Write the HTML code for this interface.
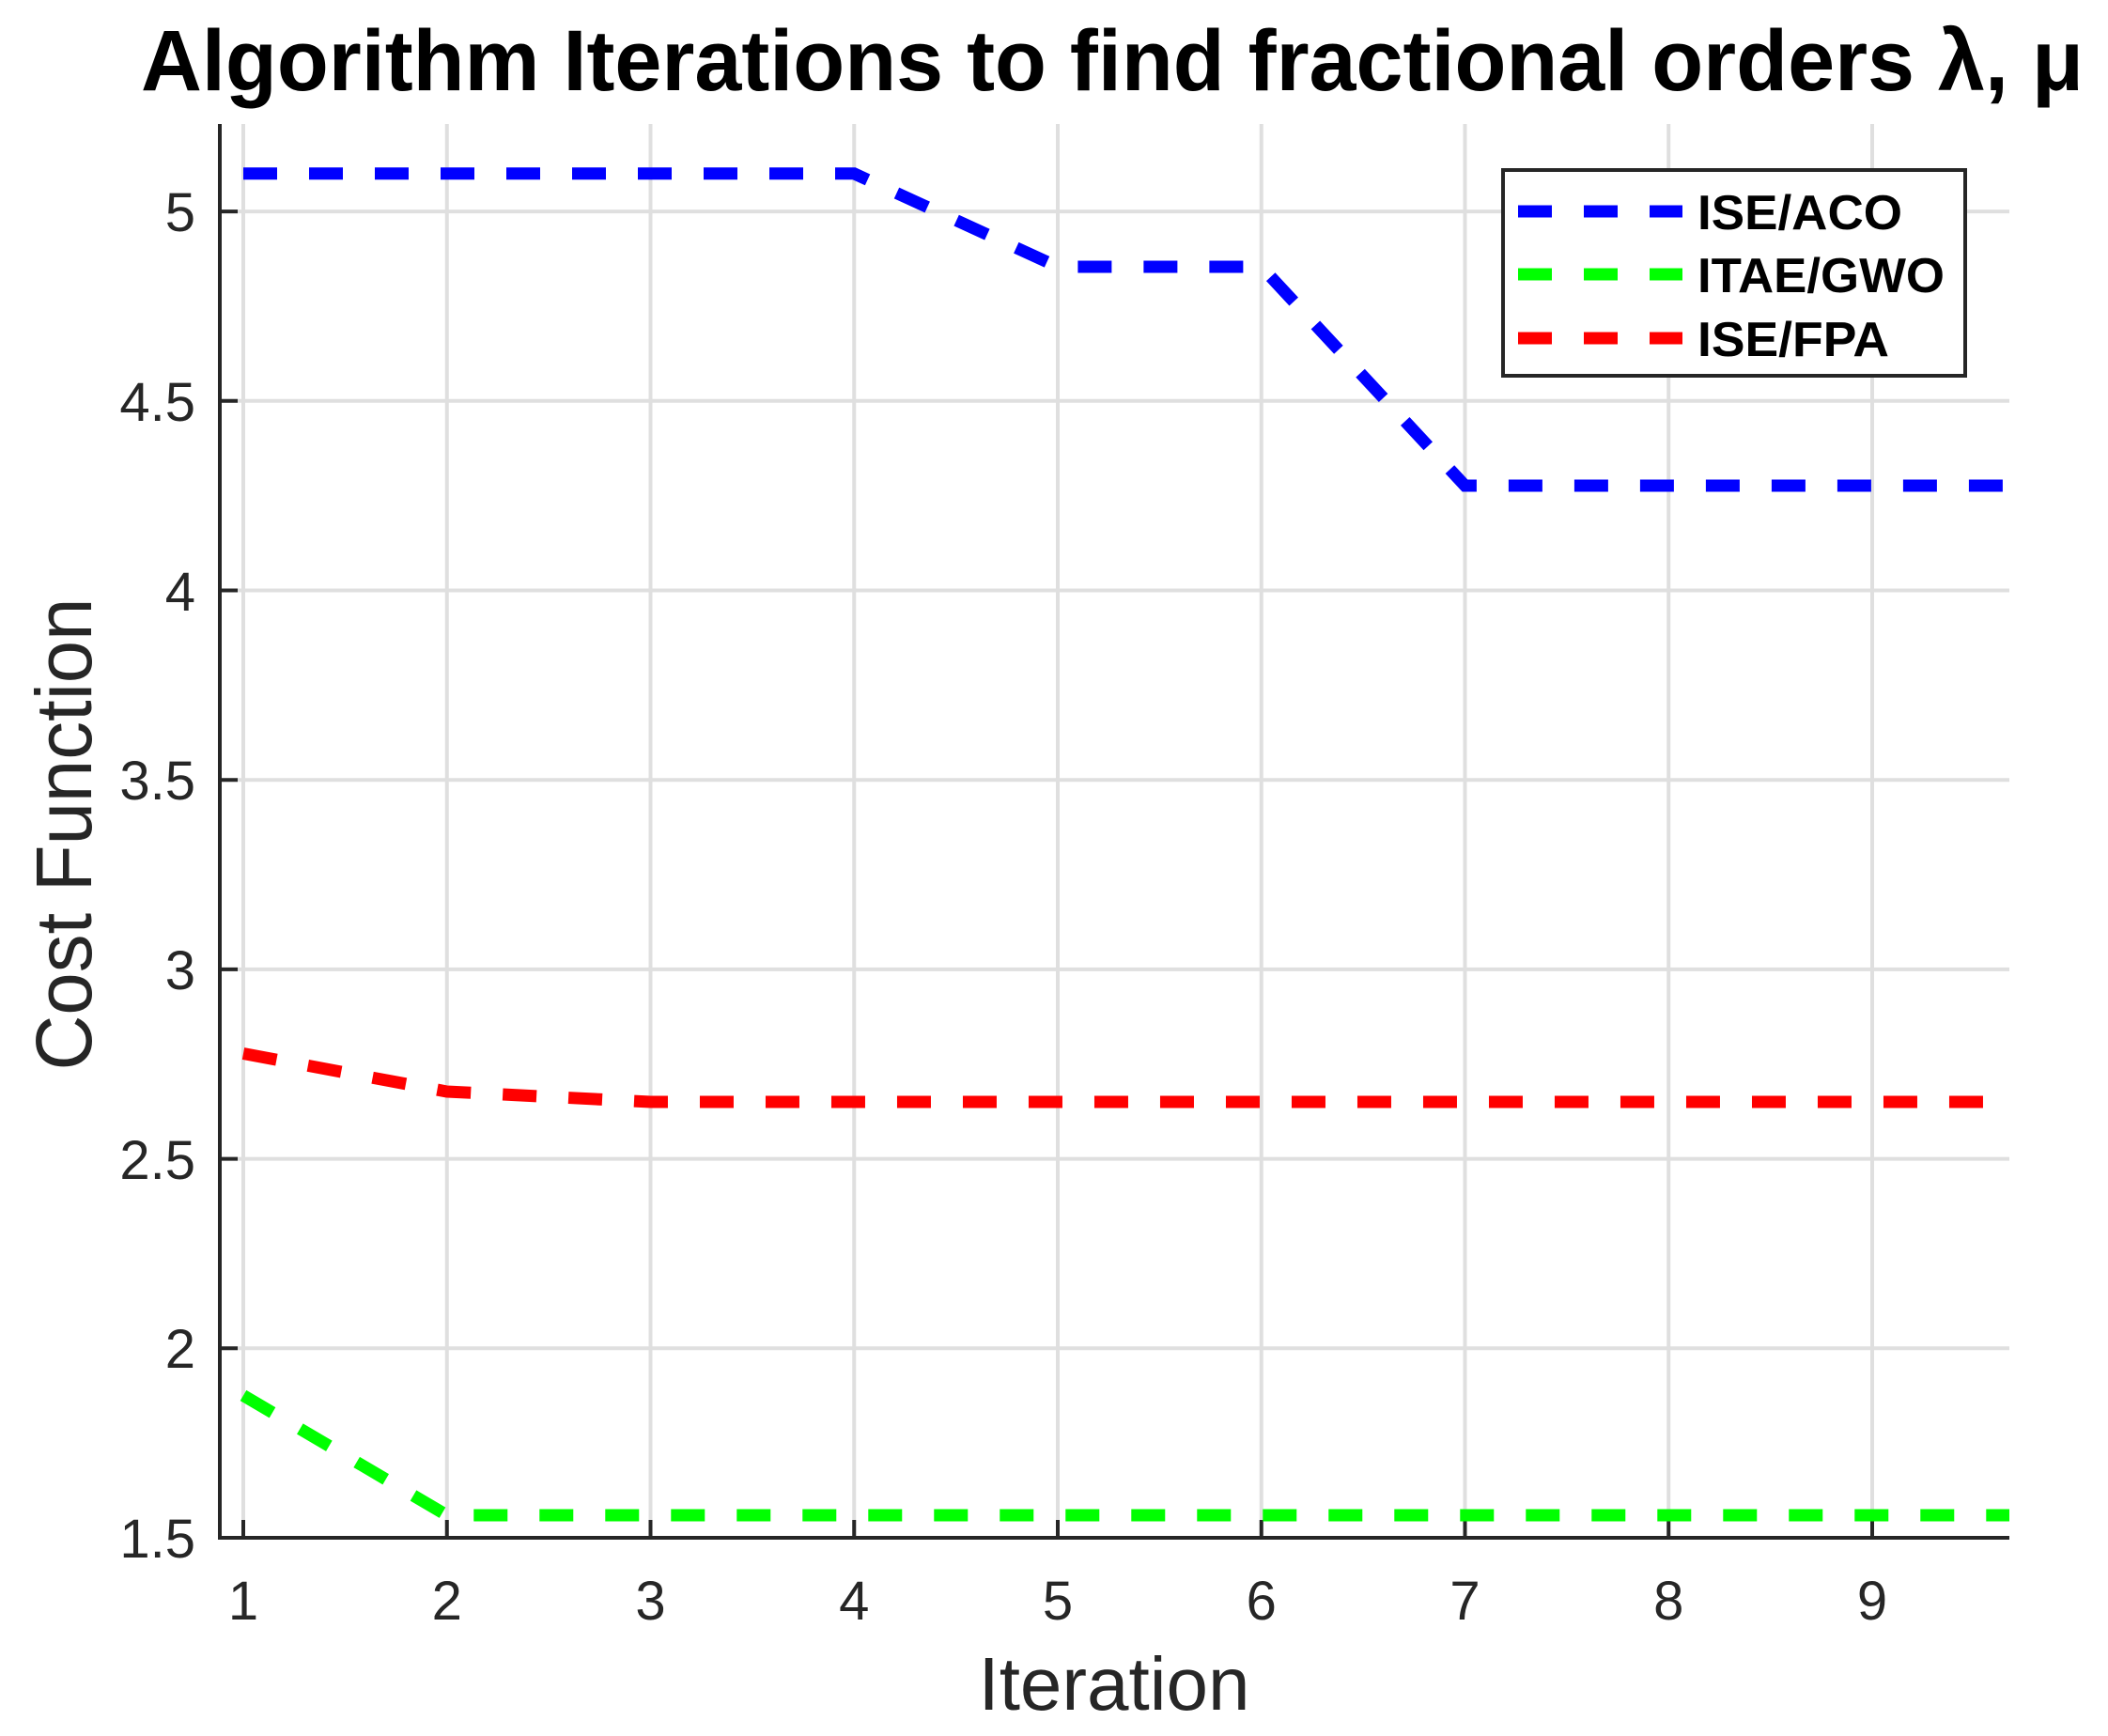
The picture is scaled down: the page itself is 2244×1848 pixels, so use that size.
<!DOCTYPE html>
<html><head><meta charset="utf-8"><style>
html,body{margin:0;padding:0;background:#fff;}
svg{display:block;}
</style></head><body>
<svg width="2244" height="1848" viewBox="0 0 2244 1848" xmlns="http://www.w3.org/2000/svg" font-family="Liberation Sans, Arial, sans-serif">
<rect width="2244" height="1848" fill="#fff"/>
<defs><clipPath id="c"><rect x="234" y="132" width="1905" height="1505"/></clipPath></defs>
<g stroke="#dfdfdf" stroke-width="4">
<line x1="259" y1="132" x2="259" y2="1637"/>
<line x1="475.75" y1="132" x2="475.75" y2="1637"/>
<line x1="692.5" y1="132" x2="692.5" y2="1637"/>
<line x1="909.25" y1="132" x2="909.25" y2="1637"/>
<line x1="1126" y1="132" x2="1126" y2="1637"/>
<line x1="1342.75" y1="132" x2="1342.75" y2="1637"/>
<line x1="1559.5" y1="132" x2="1559.5" y2="1637"/>
<line x1="1776.25" y1="132" x2="1776.25" y2="1637"/>
<line x1="1993" y1="132" x2="1993" y2="1637"/>
<line x1="234" y1="1435.3" x2="2139" y2="1435.3"/>
<line x1="234" y1="1233.6" x2="2139" y2="1233.6"/>
<line x1="234" y1="1031.9" x2="2139" y2="1031.9"/>
<line x1="234" y1="830.2" x2="2139" y2="830.2"/>
<line x1="234" y1="628.5" x2="2139" y2="628.5"/>
<line x1="234" y1="426.8" x2="2139" y2="426.8"/>
<line x1="234" y1="225.1" x2="2139" y2="225.1"/>
</g>
<g stroke="#262626" stroke-width="4" fill="none">
<line x1="234" y1="132" x2="234" y2="1639"/>
<line x1="232" y1="1637" x2="2139" y2="1637"/>
<line x1="259" y1="1637" x2="259" y2="1618"/>
<line x1="475.75" y1="1637" x2="475.75" y2="1618"/>
<line x1="692.5" y1="1637" x2="692.5" y2="1618"/>
<line x1="909.25" y1="1637" x2="909.25" y2="1618"/>
<line x1="1126" y1="1637" x2="1126" y2="1618"/>
<line x1="1342.75" y1="1637" x2="1342.75" y2="1618"/>
<line x1="1559.5" y1="1637" x2="1559.5" y2="1618"/>
<line x1="1776.25" y1="1637" x2="1776.25" y2="1618"/>
<line x1="1993" y1="1637" x2="1993" y2="1618"/>
<line x1="234" y1="1435.3" x2="253" y2="1435.3"/>
<line x1="234" y1="1233.6" x2="253" y2="1233.6"/>
<line x1="234" y1="1031.9" x2="253" y2="1031.9"/>
<line x1="234" y1="830.2" x2="253" y2="830.2"/>
<line x1="234" y1="628.5" x2="253" y2="628.5"/>
<line x1="234" y1="426.8" x2="253" y2="426.8"/>
<line x1="234" y1="225.1" x2="253" y2="225.1"/>
</g>
<g clip-path="url(#c)" fill="none" stroke-width="13" stroke-dasharray="36 34">
<polyline stroke="#0000ff" points="259,184.8 475.75,184.8 692.5,184.8 909.25,184.8 1126,284 1342.75,284 1559.5,517 1776.25,517 1993,517 2139,517"/>
<polyline stroke="#00ff00" points="259,1485.5 475.75,1613 692.5,1613 909.25,1613 1126,1613 1342.75,1613 1559.5,1613 1776.25,1613 1993,1613 2139,1613"/>
<polyline stroke="#ff0000" points="259,1121.5 475.75,1162 692.5,1173 909.25,1173 1126,1173 1342.75,1173 1559.5,1173 1776.25,1173 1993,1173 2139,1173"/>
</g>
<g fill="#262626" font-size="58">
<g text-anchor="end">
<text x="208" y="1658">1.5</text>
<text x="208" y="1456">2</text>
<text x="208" y="1255">2.5</text>
<text x="208" y="1053">3</text>
<text x="208" y="851">3.5</text>
<text x="208" y="650">4</text>
<text x="208" y="448">4.5</text>
<text x="208" y="246">5</text>
</g>
<g text-anchor="middle">
<text x="259" y="1724">1</text>
<text x="475.75" y="1724">2</text>
<text x="692.5" y="1724">3</text>
<text x="909.25" y="1724">4</text>
<text x="1126" y="1724">5</text>
<text x="1342.75" y="1724">6</text>
<text x="1559.5" y="1724">7</text>
<text x="1776.25" y="1724">8</text>
<text x="1993" y="1724">9</text>
</g>
<text x="1186" y="1820" font-size="80" text-anchor="middle">Iteration</text>
<text transform="translate(97,888) rotate(-90)" font-size="84" text-anchor="middle" textLength="503" lengthAdjust="spacingAndGlyphs">Cost Function</text>
</g>
<text x="150" y="96" font-size="92" font-weight="bold" fill="#000" textLength="2068" lengthAdjust="spacingAndGlyphs">Algorithm Iterations to find fractional orders λ, μ</text>
<rect x="1600" y="181" width="492" height="219" fill="#fff" stroke="#262626" stroke-width="4"/>
<g stroke-width="13" stroke-dasharray="36 34">
<line x1="1616" y1="225" x2="1791" y2="225" stroke="#0000ff"/>
<line x1="1616" y1="292" x2="1791" y2="292" stroke="#00ff00"/>
<line x1="1616" y1="360" x2="1791" y2="360" stroke="#ff0000"/>
</g>
<g font-size="52" font-weight="bold" fill="#000">
<text x="1807" y="244" textLength="218" lengthAdjust="spacingAndGlyphs">ISE/ACO</text>
<text x="1807" y="311" textLength="263" lengthAdjust="spacingAndGlyphs">ITAE/GWO</text>
<text x="1807" y="379" textLength="204" lengthAdjust="spacingAndGlyphs">ISE/FPA</text>
</g>
</svg>
</body></html>
